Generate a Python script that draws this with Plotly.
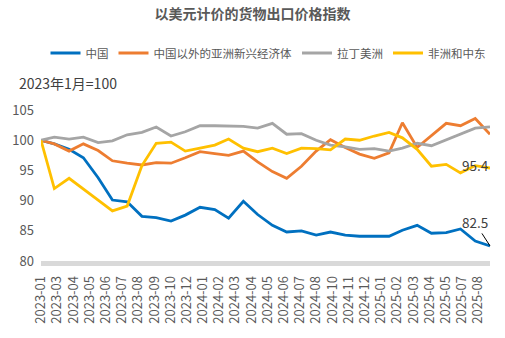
import pandas as pd
import plotly.graph_objects as go

# ---- data ----
dates = pd.date_range("2023-01-31", periods=32, freq="ME")

china = [100.0, 99.4, 98.5, 97.1, 93.8, 90.1, 89.8, 87.4, 87.2, 86.6, 87.6, 88.9,
         88.5, 87.1, 89.9, 87.7, 85.9, 84.8, 85.0, 84.3, 84.8, 84.3, 84.1, 84.1,
         84.1, 85.1, 85.9, 84.6, 84.7, 85.3, 83.3, 82.5]
asia_ex_china = [100.0, 99.4, 98.2, 99.4, 98.3, 96.6, 96.2, 95.9, 96.3, 96.2, 97.1, 98.1,
                 97.8, 97.5, 98.2, 96.4, 94.8, 93.7, 95.7, 98.2, 100.1, 98.8, 97.7, 97.0,
                 97.9, 102.9, 98.8, 100.7, 102.8, 102.4, 103.6, 101.0]
latam = [100.0, 100.5, 100.2, 100.5, 99.6, 99.9, 100.9, 101.3, 102.2, 100.7, 101.4, 102.4,
         102.4, 102.3, 102.3, 102.0, 102.8, 101.0, 101.1, 100.0, 99.2, 98.9, 98.5, 98.6,
         98.2, 98.7, 99.5, 99.1, 100.1, 101.1, 102.0, 102.2]
africa_me = [100.0, 92.0, 93.7, 92.0, 90.1, 88.3, 89.1, 95.8, 99.5, 99.7, 98.2, 98.7,
             99.2, 100.2, 98.7, 98.1, 98.7, 97.8, 98.7, 98.6, 98.4, 100.2, 100.0, 100.7,
             101.3, 100.4, 98.5, 95.7, 96.0, 94.6, 95.8, 95.4]

series_names = ["中国", "中国以外的亚洲新兴经济体", "拉丁美洲", "非洲和中东"]
series_values = [china, asia_ex_china, latam, africa_me]
series_colors = ["#0070C0", "#ED7D31", "#A5A5A5", "#FFC000"]

tick_labels = ["2023-01", "2023-03", "2023-04", "2023-05", "2023-06", "2023-07", "2023-08",
               "2023-09", "2023-10", "2023-12", "2024-01", "2024-02", "2024-03", "2024-04",
               "2024-05", "2024-06", "2024-07", "2024-08", "2024-10", "2024-11", "2024-12",
               "2025-01", "2025-02", "2025-03", "2025-04", "2025-05", "2025-07", "2025-08"]
tick_positions = pd.date_range("2023-01-31", periods=len(tick_labels), freq="34D")

y_ticks = [80, 85, 90, 95, 100, 105]

FONT = "Noto Sans CJK SC"
TXT = "#595959"

fig = go.Figure()
for name, vals, col in zip(series_names, series_values, series_colors):
    fig.add_trace(go.Scatter(x=dates, y=vals, name=name, mode="lines",
                             line=dict(color=col, width=2.8)))

fig.update_layout(
    width=505, height=338,
    margin=dict(l=36, r=15, t=101, b=77),
    paper_bgcolor="white", plot_bgcolor="white",
    font=dict(family=FONT, color=TXT),
    title=dict(text="<b>以美元计价的货物出口价格指数</b>", x=0.5, xref="container", xanchor="center",
               y=1 - 14 / 338, yref="container", yanchor="middle",
               font=dict(size=14, color=TXT, family=FONT)),
    showlegend=True,
    legend=dict(orientation="h", xref="container", yref="container",
                x=268 / 505, xanchor="center", y=1 - 53 / 338, yanchor="middle",
                font=dict(size=11.5, color=TXT, family=FONT),
                itemwidth=30, tracegroupgap=0, bgcolor="rgba(0,0,0,0)"),
    xaxis=dict(type="date", range=[dates[0], dates[-1]],
               tickvals=tick_positions, ticktext=tick_labels, tickangle=-90,
               tickfont=dict(size=13, color=TXT, family=FONT),
               showline=True, linecolor="#D9D9D9", linewidth=4.5,
               showgrid=False, zeroline=False, ticks="", ticklabelstandoff=5),
    yaxis=dict(range=[80, 106.5], tickvals=y_ticks,
               tickfont=dict(size=13, color=TXT, family=FONT),
               showgrid=False, zeroline=False, showline=False, ticks="",
               ticklabelstandoff=6),
)

fig.add_annotation(text="2023年1月=100", xref="paper", yref="paper",
                   x=-24 / 454, y=(261 - 83) / 160, xanchor="left", yanchor="middle",
                   showarrow=False, font=dict(size=14, color="#404040", family=FONT))

fig.add_annotation(text=str(africa_me[-1]), x=dates[-1], y=africa_me[-1],
                   xshift=-14.5, yshift=3, showarrow=False,
                   font=dict(size=13.5, color="#404040", family=FONT))

fig.add_annotation(text=str(china[-1]), x=dates[-1], y=china[-1],
                   showarrow=True, ax=-15.5, ay=-24, arrowhead=0, arrowwidth=1,
                   arrowcolor="black", standoff=0, startstandoff=0,
                   font=dict(size=13.5, color="#404040", family=FONT))

fig.write_html("out.html")
